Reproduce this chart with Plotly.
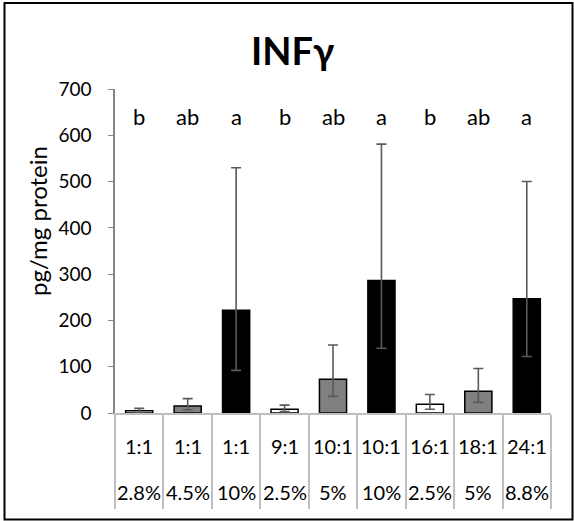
import plotly.graph_objects as go

# Ratio / percentage groups and measured IFN-gamma
ratios = ["1:1", "1:1", "1:1", "9:1", "10:1", "10:1", "16:1", "18:1", "24:1"]
percents = ["2.8%", "4.5%", "10%", "2.5%", "5%", "10%", "2.5%", "5%", "8.8%"]
means = [5, 15, 222, 8, 73, 286, 19, 47, 247]
err_up = [5, 16, 308, 9, 74, 295, 21, 49, 253]
err_down = [4, 8, 130, 5, 37, 146, 11, 24, 125]
letters = ["b", "ab", "a", "b", "ab", "a", "b", "ab", "a"]
fills = ["#ffffff", "#808080", "#000000"] * 3

FONT = "Lato"
W, H = 574, 521
L, R, T, B = 115, 23, 89, 108
ymax = 700
plot_w = W - L - R
plot_h = H - T - B


def px_to_paper_x(px):
    return (px - L) / plot_w


def px_to_paper_y(py):
    return (H - B - py) / plot_h


xs = [i + 0.5 for i in range(len(means))]

fig = go.Figure()
fig.add_trace(go.Bar(
    x=xs, y=means, width=0.56,
    marker=dict(color=fills, line=dict(color="#000000", width=1.5)),
    error_y=dict(type="data", symmetric=False, array=err_up, arrayminus=err_down,
                 color="#5a5a5a", thickness=1.6, width=5),
    showlegend=False,
))

# Significance letters above the bars
for x, t in zip(xs, letters):
    fig.add_annotation(x=x, y=640, xref="x", yref="y", text=t, showarrow=False,
                       xanchor="center", yanchor="middle",
                       font=dict(family=FONT, size=22, color="#000000"))

# Two-row category labels below the axis
for x, r, p in zip(xs, ratios, percents):
    fig.add_annotation(x=x / 9, y=px_to_paper_y(446), xref="paper", yref="paper",
                       text=r, showarrow=False, xanchor="center", yanchor="middle",
                       font=dict(family=FONT, size=20, color="#000000"))
    fig.add_annotation(x=x / 9, y=px_to_paper_y(492), xref="paper", yref="paper",
                       text=p, showarrow=False, xanchor="center", yanchor="middle",
                       font=dict(family=FONT, size=20, color="#000000"))

# Title and y-axis label
fig.add_annotation(x=px_to_paper_x(292), y=px_to_paper_y(50), xref="paper", yref="paper",
                   text="<b>INFγ</b>", showarrow=False, xanchor="center", yanchor="middle",
                   font=dict(family=FONT, size=38, color="#000000"))
fig.add_annotation(x=px_to_paper_x(37), y=px_to_paper_y(221), xref="paper", yref="paper",
                   text="pg/mg protein", showarrow=False, textangle=-90,
                   xanchor="center", yanchor="middle",
                   font=dict(family=FONT, size=24, color="#000000"))

# Outer frame around the whole chart
fig.add_shape(type="rect", xref="paper", yref="paper",
              x0=px_to_paper_x(4.5), x1=px_to_paper_x(572.5),
              y0=px_to_paper_y(519.5), y1=px_to_paper_y(3),
              line=dict(color="#000000", width=2), fillcolor="rgba(0,0,0,0)")

fig.update_layout(
    width=W, height=H,
    margin=dict(l=L, r=R, t=T, b=B),
    paper_bgcolor="#ffffff", plot_bgcolor="#ffffff",
    xaxis=dict(range=[0, 9], tickvals=list(range(10)), ticktext=[""] * 10,
               ticks="outside", ticklen=94, tickcolor="#bfbfbf", tickwidth=1.5,
               showline=True, linecolor="#bfbfbf", linewidth=1.5,
               showgrid=False, zeroline=False, fixedrange=True),
    yaxis=dict(range=[0, ymax], dtick=100, ticks="outside", ticklen=5,
               tickcolor="#868686", tickwidth=1.2,
               showline=True, linecolor="#868686", linewidth=1.5,
               showgrid=False, zeroline=False,
               tickfont=dict(family=FONT, size=19, color="#000000"),
               ticklabelstandoff=13),
    font=dict(family=FONT),
)

fig.write_html("out.html")
